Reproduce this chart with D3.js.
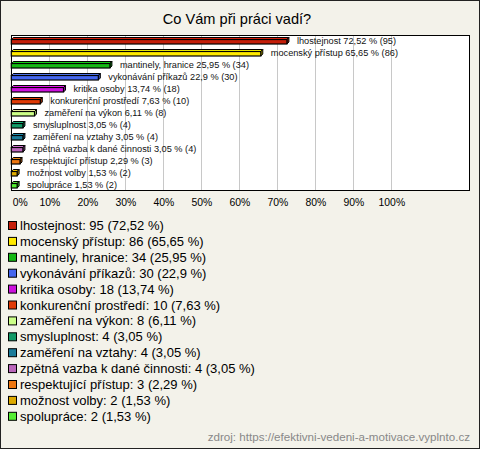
<!DOCTYPE html>
<html>
<head>
<meta charset="utf-8">
<script src="https://cdn.jsdelivr.net/npm/d3@7"></script>
<style>
  body { margin: 0; background: #fff; }
  svg { display: block; font-family: "Liberation Sans", Arial, sans-serif; }
</style>
</head>
<body>
<div id="chart"></div>
<script>
// answers and counts
const categories = ["lhostejnost", "mocenský přístup", "mantinely, hranice", "vykonávání příkazů",
  "kritika osoby", "konkurenční prostředí", "zaměření na výkon", "smysluplnost",
  "zaměření na vztahy", "zpětná vazba k dané činnosti", "respektující přístup",
  "možnost volby", "spolupráce"]
const counts = [95, 86, 34, 30, 18, 10, 8, 4, 4, 4, 3, 2, 2]
const percents = [72.52, 65.65, 25.95, 22.9, 13.74, 7.63, 6.11, 3.05, 3.05, 3.05, 2.29, 1.53, 1.53]
const colors = ["#c41e0a", "#ffe900", "#14b814", "#4466ee", "#cc11dd", "#e03a06", "#ccff88",
  "#119966", "#1b7b99", "#bb66bb", "#ee7711", "#ddaa00", "#55ee33"]
const tickValues = [0, 10, 20, 30, 40, 50, 60, 70, 80, 90, 100]

const title = "Co Vám při práci vadí?"
const source = "zdroj: https://efektivni-vedeni-a-motivace.vyplnto.cz"

const width = 480, height = 449
const plot = { left: 11, right: 470, top: 35, bottom: 191 }

const fmt = v => String(v).replace(".", ",")

const svg = d3.select("#chart").append("svg")
  .attr("width", width)
  .attr("height", height)

// background + frame
svg.append("rect")
  .attr("x", 0.5).attr("y", 0.5)
  .attr("width", width - 1).attr("height", height - 1)
  .attr("fill", "#f3f2ea")
  .attr("stroke", "#222")

svg.append("text")
  .attr("x", 237).attr("y", 24)
  .attr("text-anchor", "middle")
  .style("font-size", "14.6px")
  .attr("fill", "#000")
  .text(title)

// scales
const x = d3.scaleLinear()
  .domain([0, 120.7])
  .range([plot.left + 0.3, plot.right])

const y = d3.scaleBand()
  .domain(categories)
  .range([plot.top, plot.bottom])

// plot area
svg.append("rect")
  .attr("x", plot.left + 0.5).attr("y", plot.top + 0.5)
  .attr("width", plot.right - plot.left - 1)
  .attr("height", plot.bottom - plot.top - 1)
  .attr("fill", "#fff")
  .attr("stroke", "#000")

svg.append("g").selectAll("line")
  .data(tickValues.slice(1))
  .join("line")
  .attr("x1", d => Math.round(x(d)) + 0.5)
  .attr("x2", d => Math.round(x(d)) + 0.5)
  .attr("y1", plot.top + 1)
  .attr("y2", plot.bottom - 1)
  .attr("stroke", "#c8c8c8")

// x axis labels
const axis = svg.append("g")
  .attr("transform", `translate(0,${plot.bottom + 5})`)
  .call(d3.axisBottom(x).tickValues(tickValues).tickSize(0).tickFormat(d => d + "%"))
axis.select(".domain").remove()
axis.selectAll("text")
  .style("font-size", "10.4px")
  .style("font-family", "Liberation Sans, Arial, sans-serif")
  .attr("fill", "#000")
axis.selectAll(".tick").filter(d => d === 0).select("text")
  .attr("text-anchor", "start")
  .attr("x", 1)

// 3d bars
const depth = 2
const bars = svg.append("g").selectAll("g")
  .data(categories)
  .join("g")

bars.each(function(c, i) {
  const g = d3.select(this)
  const x0 = x(0), x1 = x(percents[i])
  const yTop = y(c) + 4.5, yBot = y(c) + 9
  const col = d3.color(colors[i])
  g.append("polygon")
    .attr("points", [[x0, yTop], [x0 + depth, yTop - depth], [x1 + depth, yTop - depth], [x1, yTop]].join(" "))
    .attr("fill", col.brighter(0.6))
    .attr("stroke", "#000").attr("stroke-width", 1).attr("stroke-linejoin", "round")
  g.append("polygon")
    .attr("points", [[x1, yTop], [x1 + depth, yTop - depth], [x1 + depth, yBot - depth], [x1, yBot]].join(" "))
    .attr("fill", col.darker(0.8))
    .attr("stroke", "#000").attr("stroke-width", 1).attr("stroke-linejoin", "round")
  g.append("rect")
    .attr("x", x0).attr("y", yTop)
    .attr("width", x1 - x0).attr("height", yBot - yTop)
    .attr("fill", colors[i])
    .attr("stroke", "#000").attr("stroke-width", 1.2)
  g.append("text")
    .attr("x", x1 + 10)
    .attr("y", y(c) + y.bandwidth() / 2 + 3)
    .style("font-size", "9.2px")
    .attr("fill", "#111")
    .text(`${c} ${fmt(percents[i])} % (${counts[i]})`)
})

// legend
const legend = svg.append("g").selectAll("g")
  .data(categories)
  .join("g")
  .attr("transform", (d, i) => `translate(0,${230 + i * 15.9})`)

legend.append("rect")
  .attr("x", 8.5).attr("y", -8.5)
  .attr("width", 8).attr("height", 8)
  .attr("fill", (d, i) => colors[i])
  .attr("stroke", "#000")

legend.append("text")
  .attr("x", 20).attr("y", 0)
  .style("font-size", "13px")
  .attr("fill", "#000")
  .text((d, i) => `${d}: ${counts[i]} (${fmt(percents[i])} %)`)

svg.append("text")
  .attr("x", 470).attr("y", 441)
  .attr("text-anchor", "end")
  .style("font-size", "11.6px")
  .attr("fill", "#888")
  .text(source)
</script>
</body>
</html>
